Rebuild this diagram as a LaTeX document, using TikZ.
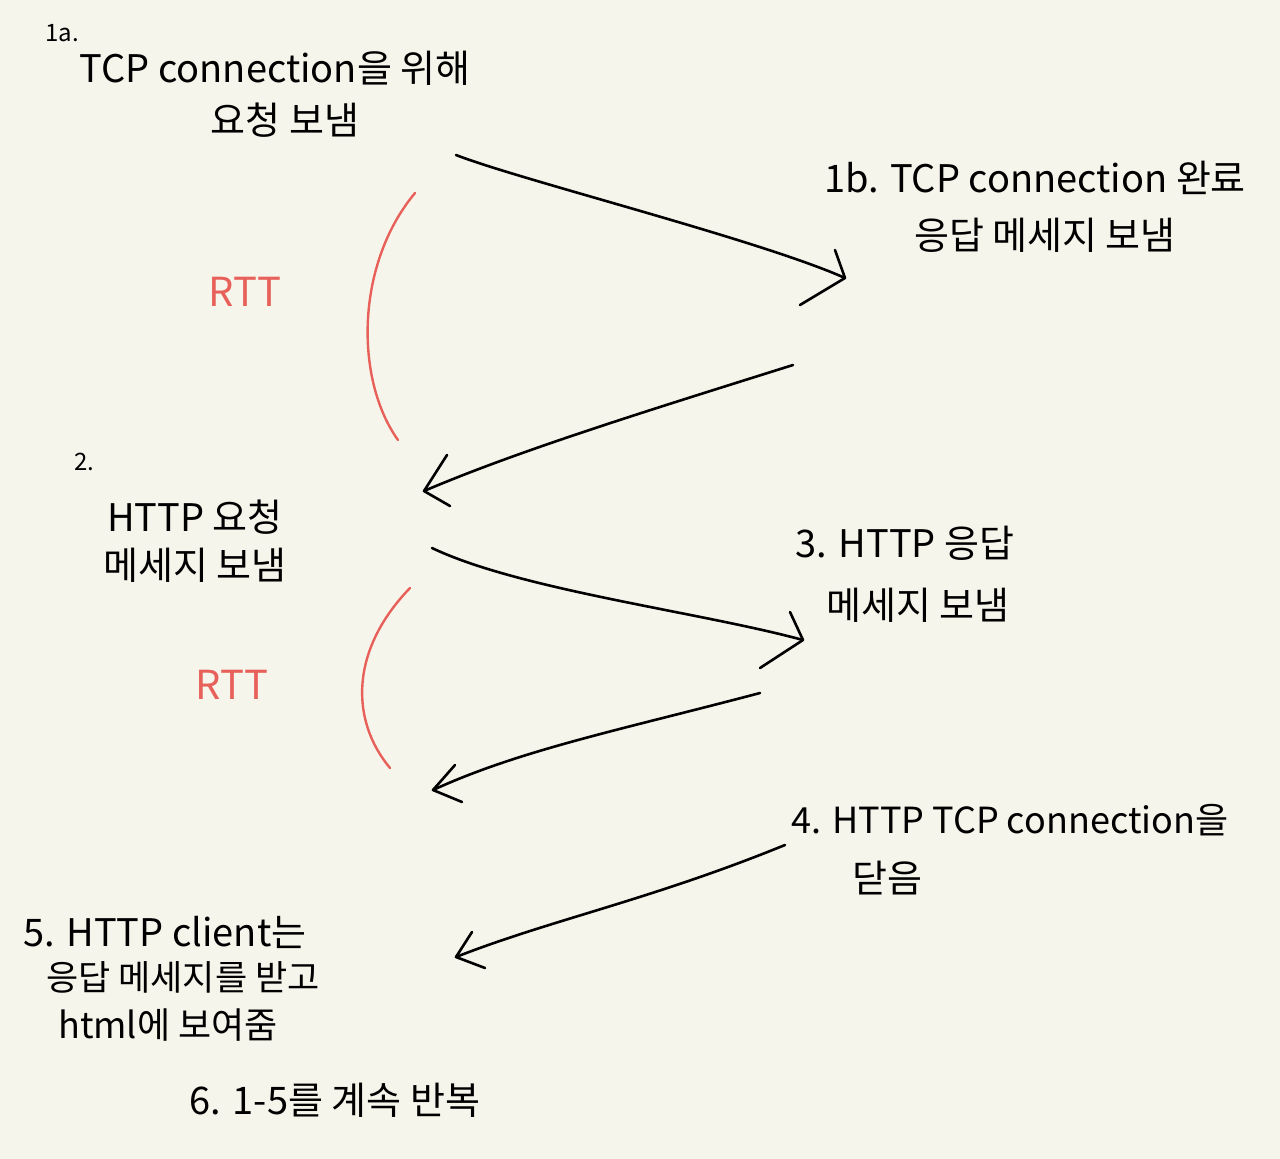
\documentclass[tikz,border=0pt]{standalone}
\usepackage{fontspec}
\setmainfont{Noto Sans CJK KR}
\definecolor{paper}{RGB}{246,245,236}
\definecolor{rtt}{RGB}{232,96,90}
\begin{document}
\begin{tikzpicture}[x=1pt,y=-1pt,
  ink/.style={line width=2.6pt,line cap=round,line join=round,black},
  redarc/.style={line width=2.4pt,rtt,line cap=round},
  lbl/.style={font=\fontsize{38}{46}\selectfont,inner sep=0pt,anchor=center},
  small/.style={font=\fontsize{24}{28}\selectfont,inner sep=0pt,anchor=center},
  rttlbl/.style={font=\fontsize{40}{48}\selectfont,inner sep=0pt,text=rtt,anchor=center}]
\fill[paper] (0,0) rectangle (1280,1159);
\useasboundingbox (0,0) rectangle (1280,1159);

% step 1a
\node[small] (n1a) at (62,33) {1a.};
\node[lbl] (t1a1) at (275,68) {TCP connection을 위해};
\node[lbl] (t1a2) at (285,120) {요청 보냄};
% step 1b
\node[lbl] (t1b1) at (1035,178) {1b. TCP connection 완료};
\node[lbl] (t1b2) at (1045,235) {응답 메세지 보냄};
% step 2
\node[small] (n2) at (84,462) {2.};
\node[lbl] (t21) at (195,517) {HTTP 요청};
\node[lbl] (t22) at (195,565) {메세지 보냄};
% step 3
\node[lbl] (t31) at (905,543) {3. HTTP 응답};
\node[lbl] (t32) at (918,605) {메세지 보냄};
% step 4
\node[lbl,font=\fontsize{36}{44}\selectfont] (t41) at (1010,820) {4. HTTP TCP connection을};
\node[lbl] (t42) at (887,878) {닫음};
% step 5
\node[lbl] (t51) at (165,932) {5. HTTP client는};
\node[lbl,font=\fontsize{35}{42}\selectfont] (t52) at (183,977) {응답 메세지를 받고};
\node[lbl,font=\fontsize{36}{44}\selectfont] (t53) at (168,1025) {html에 보여줌};
% step 6
\node[lbl] (t6) at (335,1100) {6. 1-5를 계속 반복};
% RTT labels
\node[rttlbl] (r1) at (245,292) {RTT};
\node[rttlbl] (r2) at (232,685) {RTT};

% arrow coordinates
\coordinate (a1s) at (456,155); \coordinate (a1e) at (845,278);
\coordinate (a1h1) at (835,250); \coordinate (a1h2) at (800,305);
\coordinate (a2s) at (793,365); \coordinate (a2e) at (424,491);
\coordinate (a2h1) at (447,455); \coordinate (a2h2) at (450,506);
\coordinate (a3s) at (432,548); \coordinate (a3e) at (803,640);
\coordinate (a3h1) at (790,612); \coordinate (a3h2) at (760,668);
\coordinate (a4s) at (760,693); \coordinate (a4e) at (433,790);
\coordinate (a4h1) at (455,765); \coordinate (a4h2) at (462,802);
\coordinate (a5s) at (785,845); \coordinate (a5e) at (456,957);
\coordinate (a5h1) at (472,932); \coordinate (a5h2) at (485,968);

\draw[ink] (a1s) .. controls (520,180) and (760,240) .. (a1e);
\draw[ink] (a1h1) -- (a1e) -- (a1h2);
\draw[ink] (a2s) .. controls (650,410) and (520,450) .. (a2e);
\draw[ink] (a2h1) -- (a2e) -- (a2h2);
\draw[ink] (a3s) .. controls (520,590) and (700,612) .. (a3e);
\draw[ink] (a3h1) -- (a3e) -- (a3h2);
\draw[ink] (a4s) .. controls (620,730) and (520,750) .. (a4e);
\draw[ink] (a4h1) -- (a4e) -- (a4h2);
\draw[ink] (a5s) .. controls (650,900) and (550,920) .. (a5e);
\draw[ink] (a5h1) -- (a5e) -- (a5h2);

% RTT arcs
\coordinate (b1s) at (415,193); \coordinate (b1e) at (398,440);
\coordinate (b2s) at (410,588); \coordinate (b2e) at (390,768);
\draw[redarc] (b1s) .. controls (355,265) and (355,380) .. (b1e);
\draw[redarc] (b2s) .. controls (350,650) and (350,720) .. (b2e);
\end{tikzpicture}
\end{document}
